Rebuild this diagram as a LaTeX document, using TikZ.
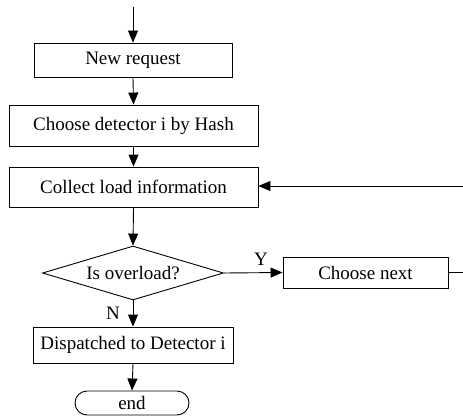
\documentclass[tikz,border=0pt]{standalone}
\usepackage{fontspec}
\setmainfont{Liberation Serif}
\usetikzlibrary{arrows.meta,shapes.geometric,shapes.misc}
\begin{document}
\begin{tikzpicture}[x=1pt,y=-1pt,
  every node/.style={font=\fontsize{19}{21}\selectfont, inner sep=0pt},
  box/.style={draw, line width=0.9pt, rectangle},
  dec/.style={draw, line width=0.9pt, diamond, aspect=3.35},
  term/.style={draw, line width=0.9pt, rounded rectangle},
  arr/.style={line width=0.9pt, -{Triangle[length=12pt,width=10pt]}},
  ln/.style={line width=0.9pt},
  lbl/.style={font=\fontsize{19}{21}\selectfont}]
\useasboundingbox (0,0) rectangle (463,417);
\coordinate (s) at (133,7);
\node[box, minimum width=198pt, minimum height=34pt] (n1) at (133,60) {New request};
\node[box, minimum width=249pt, minimum height=41pt] (n2) at (133.5,125.5) {Choose detector i by Hash};
\node[box, minimum width=249pt, minimum height=40pt] (n3) at (133.5,187) {Collect load information};
\node[dec, minimum width=181pt, minimum height=54pt] (d) at (133,273) {Is overload?};
\node[box, minimum width=165pt, minimum height=31pt] (cn) at (365.5,272.5) {Choose next};
\node[box, minimum width=200pt, minimum height=36pt] (disp) at (133,345) {Dispatched to Detector i};
\node[term, minimum width=114pt, minimum height=24pt] (e) at (132,403) {end};
\coordinate (r1) at (463,272.5);
\coordinate (r2) at (463,186);
\node[lbl] (y) at (261,259) {Y};
\node[lbl] (nlab) at (113,313) {N};
\draw[arr] (s) -- (n1.north);
\draw[arr] (n1.south) -- (n2.north);
\draw[arr] (n2.south) -- (n3.north);
\draw[arr] (n3.south) -- (d.north);
\draw[arr] (d.east) -- (cn.west);
\draw[ln] (cn.east) -- (r1);
\draw[arr] (r2) -- (n3.east |- r2);
\draw[arr] (d.south) -- (disp.north);
\draw[arr] (disp.south) -- (e.north);
\end{tikzpicture}
\end{document}
